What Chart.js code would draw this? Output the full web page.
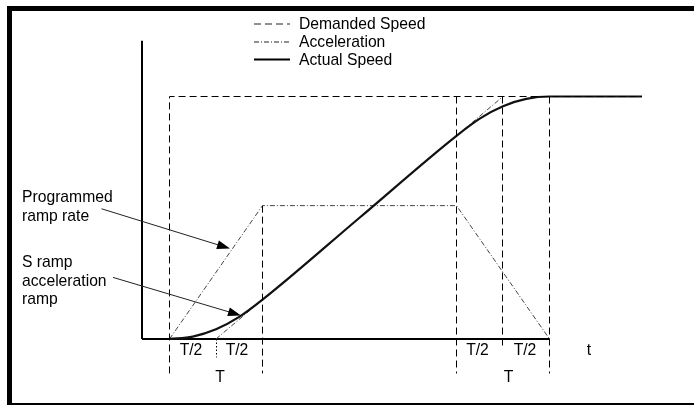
<!DOCTYPE html>
<html>
<head>
<meta charset="utf-8">
<script src="https://cdn.jsdelivr.net/npm/chart.js@4.4.0/dist/chart.umd.min.js"></script>
<style>
  html, body { margin: 0; padding: 0; background: #fff; }
  canvas { display: block; }
</style>
</head>
<body>
<canvas id="chartCanvas" width="694" height="405"></canvas>
<script>
// time in % of the drawn span, speed in % of the demanded speed
const demandedT = [5.5, 5.5, 100];
const demandedV = [-14.2, 100, 100];

const accelT = [5.5, 24.1, 62.9, 81.5];
const accelV = [0, 55, 55, 0];

const actualT = [5.5, 10.15, 14.8, 19.45, 24.1, 43.5, 62.9, 67.55, 72.2, 76.85, 81.5, 100];
const actualV = [0, 1.0, 4.0, 9.1, 16.2, 50, 83.8, 90.9, 96.0, 99.0, 100, 100];

// straight ramp rate, extended past the S corners
const rampT = [14.8, 24.1, 43, 62.9, 72.2];
const rampV = [0, 16.2, null, 83.8, 100];

// vertical T and T/2 marker lines
const markT = [24.1, 62.9, 72.1, 81.5];
const markTop = [55, 100, 100, 100];
const markBottom = [-14.2, -14.2, -2.7, -14.2];
const halfMarkT = 14.9;
const halfMarkV = [0, -7.6];

const axisTopV = 123;
const axisEndT = 81.5;

const halfLabelsT = [9.8, 19, 67.1, 76.6];
const fullLabelsT = [15.6, 73.3];
const timeLabelT = 89.4;

const pts = (xs, ys) => xs.map((x, i) => ({ x: x, y: ys[i] }));

const FONT = '15.7px "Liberation Sans", Arial, sans-serif';

const markDatasets = markT.map((t, i) => ({
  label: "mark" + i,
  data: pts([t, t], [markTop[i], markBottom[i]]),
  borderColor: "#000", borderWidth: 1, borderDash: [7, 4]
}));

const drawArrow = (ctx, x1, y1, x2, y2) => {
  const ang = Math.atan2(y2 - y1, x2 - x1);
  const c = Math.cos(ang), s = Math.sin(ang);
  ctx.save();
  ctx.strokeStyle = "#222";
  ctx.lineWidth = 1;
  ctx.beginPath();
  ctx.moveTo(x1, y1);
  ctx.lineTo(x2 - 9 * c, y2 - 9 * s);
  ctx.stroke();
  ctx.fillStyle = "#000";
  ctx.beginPath();
  ctx.moveTo(x2, y2);
  ctx.lineTo(x2 - 13 * c + 4.5 * s, y2 - 13 * s - 4.5 * c);
  ctx.lineTo(x2 - 13 * c - 4.5 * s, y2 - 13 * s + 4.5 * c);
  ctx.closePath();
  ctx.fill();
  ctx.restore();
};

const decorations = {
  id: "decorations",
  beforeDraw(chart) {
    const ctx = chart.ctx;
    ctx.save();
    ctx.fillStyle = "#fff";
    ctx.fillRect(0, 0, chart.width, chart.height);
    ctx.restore();
  },
  afterDraw(chart) {
    const ctx = chart.ctx;
    const xs = chart.scales.x, ys = chart.scales.y;
    const px = v => xs.getPixelForValue(v);
    const py = v => ys.getPixelForValue(v);

    ctx.save();
    // frame
    ctx.strokeStyle = "#000";
    ctx.lineWidth = 5;
    ctx.strokeRect(9.5, 8.5, 720, 397);

    // legend
    const rows = [
      { text: "Demanded Speed", dash: [7, 4], w: 1, y: 28.5 },
      { text: "Acceleration", dash: [5, 2, 1, 2], w: 1, y: 46.5 },
      { text: "Actual Speed", dash: [], w: 2, y: 64.5 }
    ];
    ctx.font = FONT;
    ctx.fillStyle = "#000";
    ctx.textBaseline = "alphabetic";
    rows.forEach(r => {
      ctx.beginPath();
      ctx.setLineDash(r.dash);
      ctx.lineWidth = r.w;
      ctx.strokeStyle = r.w > 1 ? "#000" : "#222";
      const ly = r.w > 1 ? r.y - 5 : r.y - 4.5;
      ctx.moveTo(254, ly);
      ctx.lineTo(290, ly);
      ctx.stroke();
      ctx.fillText(r.text, 299, r.y);
    });
    ctx.setLineDash([]);

    // left notes
    ctx.fillText("Programmed", 22, 201.5);
    ctx.fillText("ramp rate", 22, 221);
    ctx.fillText("S ramp", 22, 266.5);
    ctx.fillText("acceleration", 22, 285.5);
    ctx.fillText("ramp", 22, 303.5);

    drawArrow(ctx, px(-8.1), py(53.7), px(17.6), py(37.3));
    drawArrow(ctx, px(-5.8), py(25.4), px(19.8), py(9.7));

    // time labels
    ctx.textAlign = "center";
    halfLabelsT.forEach(t => ctx.fillText("T/2", px(t), 355));
    fullLabelsT.forEach(t => ctx.fillText("T", px(t), 381.5));
    ctx.fillText("t", px(timeLabelT), 355);
    ctx.restore();
  }
};

new Chart(document.getElementById("chartCanvas"), {
  type: "line",
  data: {
    datasets: [
      {
        label: "Demanded Speed",
        data: pts(demandedT, demandedV),
        borderColor: "#000", borderWidth: 1, borderDash: [7, 4]
      },
      ...markDatasets,
      {
        label: "half mark",
        data: pts([halfMarkT, halfMarkT], halfMarkV),
        borderColor: "#000", borderWidth: 1, borderDash: [1.5, 2]
      },
      {
        label: "Actual Speed",
        data: pts(actualT, actualV),
        borderColor: "#111", borderWidth: 2.2, cubicInterpolationMode: "monotone"
      },
      {
        label: "Acceleration",
        data: pts(accelT, accelV),
        borderColor: "#444", borderWidth: 1, borderDash: [5, 2, 1, 2]
      },
      {
        label: "ramp rate",
        data: pts(rampT, rampV),
        borderColor: "#444", borderWidth: 1, borderDash: [5, 2, 1, 2], spanGaps: false
      },
      {
        label: "y axis",
        data: pts([0, 0], [0, axisTopV]),
        borderColor: "#000", borderWidth: 2
      },
      {
        label: "x axis",
        data: pts([0, axisEndT], [0, 0]),
        borderColor: "#000", borderWidth: 2
      }
    ]
  },
  options: {
    responsive: false,
    animation: false,
    devicePixelRatio: 1,
    layout: { padding: { left: 142, right: 52, top: 35.875, bottom: 17.5 } },
    elements: { point: { radius: 0 }, line: { fill: false } },
    scales: {
      x: { type: "linear", min: 0, max: 100, display: false },
      y: { type: "linear", min: -20, max: 125, display: false }
    },
    plugins: { legend: { display: false }, tooltip: { enabled: false } },
    clip: false
  },
  plugins: [decorations]
});
</script>
</body>
</html>
